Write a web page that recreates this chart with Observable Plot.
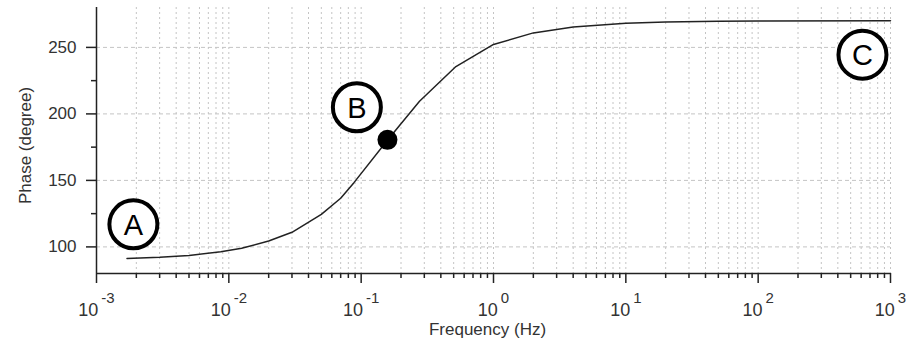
<!DOCTYPE html>
<html>
<head>
<meta charset="utf-8">
<script src="https://cdn.jsdelivr.net/npm/d3@7"></script>
<script src="https://cdn.jsdelivr.net/npm/@observablehq/plot@0.6"></script>
<style>
  html, body { margin: 0; padding: 0; background: #fff; }
  #chart { width: 906px; height: 343px; }
  svg { font-family: "Liberation Sans", Arial, sans-serif; }
</style>
</head>
<body>
<div id="chart"></div>
<script>
// Phase curve
const freqHz = [0.0017, 0.003, 0.005, 0.0087, 0.0125, 0.02, 0.03, 0.05, 0.07, 0.0885, 0.159, 0.276, 0.52, 1, 2, 4, 10, 20, 50, 100, 1000];
const phaseDeg = [91.3, 92.2, 93.6, 96.3, 99.0, 104.4, 111.0, 124.4, 136.6, 148.5, 180.5, 209.5, 235.6, 252.2, 260.9, 265.4, 268.2, 269.1, 269.6, 269.8, 270];

// Marker B point
const markerFreq = [0.158];
const markerPhase = [180.5];

// Circled annotations
const annoText = ["A", "B", "C"];
const annoFreq = [0.0019, 0.0928, 614];
const annoPhase = [117, 205, 244.5];

// Axis ticks
const xMajorTicks = [1e-3, 1e-2, 1e-1, 1e0, 1e1, 1e2, 1e3];
const xMajorExp = ["-3", "-2", "-1", "0", "1", "2", "3"];
const yMajorTicks = [100, 150, 200, 250];
const yMajorLabels = ["100", "150", "200", "250"];
const yMinorTicks = [125, 175, 225];
const xMinorTicks = [];
for (let k = 0; k < xMajorTicks.length - 1; k++) {
  for (let m = 2; m <= 9; m++) xMinorTicks.push(m * xMajorTicks[k]);
}
const xGrid = xMajorTicks.concat(xMinorTicks);

const curve = freqHz.map((f, i) => ({f, p: phaseDeg[i]}));
const marker = markerFreq.map((f, i) => ({f, p: markerPhase[i]}));
const anno = annoText.map((t, i) => ({t, f: annoFreq[i], p: annoPhase[i]}));
const yLab = yMajorTicks.map((v, i) => ({v, t: yMajorLabels[i]}));

const expOf = new Map(xMajorTicks.map((t, i) => [t, xMajorExp[i]]));

const svg = Plot.plot({
  width: 906,
  height: 343,
  marginLeft: 96,
  marginRight: 16,
  marginTop: 7,
  marginBottom: 70,
  style: {fontFamily: '"Liberation Sans", Arial, sans-serif', color: "#222", background: "#fff"},
  x: {type: "log", domain: [1e-3, 1e3]},
  y: {domain: [80, 280]},
  marks: [
    Plot.ruleX(xGrid, {stroke: "#c4c4c4", strokeWidth: 1, strokeDasharray: "2,3"}),
    Plot.ruleY(yMajorTicks, {stroke: "#c4c4c4", strokeWidth: 1, strokeDasharray: "4,3"}),
    Plot.ruleY([80], {stroke: "#222", strokeWidth: 1.5}),
    Plot.ruleX([1e-3], {stroke: "#222", strokeWidth: 1.5}),
    Plot.axisX(xMajorTicks, {tickSize: 10, tickPadding: 20, label: null, strokeWidth: 1.5, tickFormat: d => expOf.get(d)}),
    Plot.axisX(xMinorTicks, {tickSize: 5, label: null, strokeWidth: 1.5, tickFormat: () => ""}),
    Plot.axisY(yMajorTicks, {tickSize: 10, label: null, strokeWidth: 1.5, tickFormat: () => ""}),
    Plot.axisY(yMinorTicks, {tickSize: 5, label: null, strokeWidth: 1.5, tickFormat: () => ""}),
    Plot.text(yLab, {y: "v", text: "t", frameAnchor: "left", textAnchor: "end", lineAnchor: "middle", dx: -20, fontSize: 17, fill: "#333"}),
    Plot.line(curve, {x: "f", y: "p", stroke: "#222", strokeWidth: 1.5}),
    Plot.dot(marker, {x: "f", y: "p", r: 10, fill: "#000", stroke: "none"}),
    Plot.dot(anno, {x: "f", y: "p", r: 24, fill: "#fff", stroke: "#000", strokeWidth: 4}),
    Plot.text(anno, {x: "f", y: "p", text: "t", fontSize: 29, fill: "#000", dy: 1}),
    Plot.text(["Frequency (Hz)"], {text: d => d, frameAnchor: "bottom", textAnchor: "middle", lineAnchor: "middle", dx: -6, dy: 56, fontSize: 17, fill: "#333"}),
    Plot.text(["Phase (degree)"], {text: d => d, frameAnchor: "left", textAnchor: "middle", lineAnchor: "middle", dx: -71, dy: 5, rotate: -90, fontSize: 17, fill: "#333"})
  ]
});

// x tick labels: 10 with a superscript exponent
d3.select(svg).selectAll('g[aria-label="x-axis tick label"] text').each(function() {
  const e = this.textContent;
  if (!e) return;
  const t = d3.select(this);
  t.text("").attr("fill", "#333").style("font-size", "18px");
  t.append("tspan").text("10");
  t.append("tspan").text(e).attr("dx", 3).attr("dy", -13).style("font-size", "15px");
});

document.getElementById("chart").appendChild(svg);
</script>
</body>
</html>
